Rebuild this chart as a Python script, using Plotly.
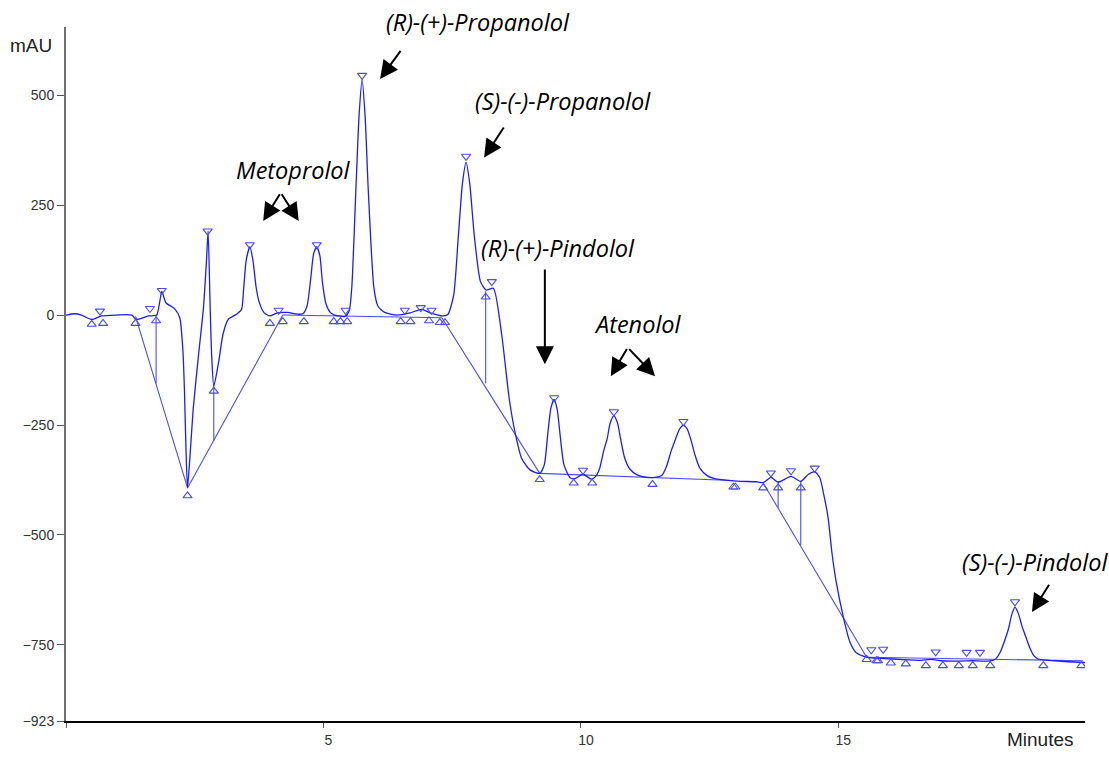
import plotly.graph_objects as go

# ---- chromatogram signal (time in minutes, absorbance in mAU) ----
sig_t = [0.00, 0.17, 0.30, 0.50, 0.69, 0.98, 1.28, 1.36, 1.60, 1.76, 1.82, 1.86, 1.94, 2.04, 2.12,
         2.21, 2.27, 2.30, 2.33, 2.36, 2.41, 2.47, 2.57, 2.67, 2.73, 2.76, 2.80, 2.83, 2.87, 2.96,
         3.05, 3.15, 3.31, 3.41, 3.45, 3.50, 3.57, 3.63, 3.69, 3.75, 3.85, 3.96, 4.10, 4.30, 4.50,
         4.60, 4.68, 4.75, 4.81, 4.87, 4.93, 4.98, 5.05, 5.14, 5.22, 5.42, 5.50, 5.55, 5.63, 5.69,
         5.75, 5.81, 5.87, 5.98, 6.06, 6.19, 6.42, 6.68, 6.91, 7.07, 7.33, 7.42, 7.53, 7.62, 7.70,
         7.77, 7.84, 7.93, 8.05, 8.16, 8.30, 8.46, 8.61, 8.72, 8.85, 9.01, 9.20, 9.29, 9.36, 9.42,
         9.48, 9.54, 9.59, 9.67, 9.79, 9.88, 10.04, 10.20, 10.28, 10.36, 10.44, 10.51, 10.57, 10.64,
         10.71, 10.77, 10.85, 10.95, 11.10, 11.28, 11.44, 11.57, 11.66, 11.75, 11.84, 11.92, 11.99,
         12.06, 12.13, 12.22, 12.31, 12.45, 12.60, 12.85, 13.10, 13.40, 13.54, 13.69, 13.83, 14.08,
         14.27, 14.42, 14.54, 14.64, 14.72, 14.80, 14.88, 14.96, 15.09, 15.22, 15.35, 15.55, 15.70,
         15.90, 16.20, 16.60, 16.80, 17.00, 17.30, 17.60, 17.85, 18.00, 18.07, 18.15, 18.23, 18.30,
         18.37, 18.43, 18.50, 18.56, 18.62, 18.72, 18.80, 18.88, 19.20, 19.79]
sig_v = [0, 3, 0, -10, -2, 0, 0, -10, -2, 0, 30, 54, 28, 20, 13,
         -6, -80, -170, -304, -393, -318, -214, -95, 17, 128, 191, 17, -95, -162, -110,
         -43, -10, 2, 13, 60, 125, 155, 125, 65, 30, 5, -2, 5, 6, 2,
         3, 20, 80, 140, 155, 135, 75, 25, 5, 0, -3, 10, 62, 285, 450,
         536, 450, 285, 62, 20, 6, 0, 5, 13, 5, -2, 2, 46, 180, 300,
         347, 300, 180, 76, 57, 61, -43, -192, -266, -326, -352, -360, -340, -266, -210,
         -192, -215, -266, -340, -370, -372, -362, -373, -368, -350, -310, -281, -245, -229,
         -245, -281, -325, -350, -364, -369, -369, -365, -345, -310, -281, -258, -251,
         -258, -281, -320, -348, -365, -372, -376, -378, -379, -381, -369, -380, -367,
         -378, -362, -356, -370, -410, -460, -545, -608, -683, -742, -768, -778, -780,
         -781, -783, -785, -783, -786, -787, -786, -787, -785, -780, -765, -740, -715,
         -680, -664, -680, -705, -725, -757, -775, -782, -786, -790]

# ---- peak-apex markers (triangle down) ----
apex_t = [0.66, 1.63, 1.86, 2.75, 3.57, 4.13, 4.87, 5.43, 5.75, 6.58, 6.89, 7.10, 7.77, 8.27,
          9.48, 10.04, 10.64, 11.99, 13.69, 14.08, 14.54, 15.64, 15.87, 16.89, 17.49, 17.75, 18.43]
apex_v = [9, 15, 56, 191, 160, 11, 160, 11, 545, 11, 17, 11, 361, 76,
          -188, -353, -220, -242, -359, -354, -348, -761, -760, -766, -767, -767, -652]

# ---- peak start/end markers (triangle up) ----
base_t = [0.50, 0.72, 1.35, 1.75, 2.36, 2.87, 3.96, 4.21, 4.62, 5.20, 5.33, 5.46, 6.50, 6.69,
          7.05, 7.26, 7.36, 8.15, 9.20, 9.86, 10.22, 11.39, 12.96, 13.00, 13.54, 13.83, 14.27,
          15.55, 15.74, 15.77, 16.02, 16.31, 16.70, 17.03, 17.34, 17.61, 17.95, 18.98, 19.72]
base_v = [-21, -19, -19, -13, -411, -173, -19, -15, -15, -15, -15, -15, -15, -15,
          -13, -17, -17, 41, -374, -382, -382, -385, -391, -391, -393, -393, -393,
          -783, -786, -786, -791, -793, -797, -797, -797, -797, -797, -797, -797]

# ---- integration baselines (start/end points of each segment) ----
bl_t0 = [1.35, 2.36, 4.21, 7.30, 9.20, 13.54, 15.55]
bl_v0 = [-3, -393, 0, -6, -360, -382, -778]
bl_t1 = [2.36, 4.21, 7.30, 9.20, 12.95, 15.55, 19.75]
bl_v1 = [-393, 0, -6, -360, -376, -778, -786]

# ---- perpendicular drop lines ----
drop_t = [1.75, 2.87, 8.15, 13.83, 14.27]
drop_top = [0, -162, 54, -378, -378]
drop_bot = [-155, -286, -155, -438, -523]

# ---- labels (the first one sits above the plot, in paper units) ----
labels = ["Metoprolol", "(S)-(-)-Propanolol",
          "(R)-(+)-Pindolol", "Atenolol", "(S)-(-)-Pindolol"]
label_t = [4.41, 9.65, 9.55, 11.11, 18.82]
label_v = [329, 486, 153, -21, -561]
top_label = "(R)-(+)-Propanolol"
top_label_pos = (0.404, 1.007)

# arrows: tail -> tip
arr_t0 = [6.52, 4.17, 4.17, 8.52, 9.30, 10.91, 10.91, 19.11]
arr_v0 = [604, 278, 278, 430, 107, -74, -74, -610]
arr_t1 = [6.10, 3.83, 4.52, 8.12, 9.30, 10.58, 11.44, 18.76]
arr_v1 = [537, 214, 214, 358, -112, -139, -139, -675]

y_ticks = [500, 250, 0, -250, -500, -750, -923]
x_ticks = [0, 5, 10, 15]
x_ticktext = ["", "5", "10", "15"]

SIG_COLOR = "#1c1cff"
AUX_COLOR = "#4a4aff"
LABEL_FONT = dict(family="Open Sans", size=23.5, style="italic", color="#000000")

fig = go.Figure()

# baselines
bx, by = [], []
for a, b, c, d in zip(bl_t0, bl_v0, bl_t1, bl_v1):
    bx += [a, c, None]
    by += [b, d, None]
for t, top, bot in zip(drop_t, drop_top, drop_bot):
    bx += [t, t, None]
    by += [top, bot, None]
fig.add_trace(go.Scatter(x=bx, y=by, mode="lines",
                         line=dict(color=AUX_COLOR, width=1.1), hoverinfo="skip"))

fig.add_trace(go.Scatter(x=sig_t, y=sig_v, mode="lines",
                         line=dict(color=SIG_COLOR, width=1.3, shape="spline", smoothing=0.6)))

fig.add_trace(go.Scatter(x=apex_t, y=apex_v, mode="markers",
                         marker=dict(symbol="triangle-down-open", size=8,
                                     color=AUX_COLOR, line=dict(width=1.1, color=AUX_COLOR))))
fig.add_trace(go.Scatter(x=base_t, y=base_v, mode="markers",
                         marker=dict(symbol="triangle-up-open", size=8,
                                     color=AUX_COLOR, line=dict(width=1.1, color=AUX_COLOR))))

annotations = []
for txt, t, v in zip(labels, label_t, label_v):
    annotations.append(dict(x=t, y=v, xref="x", yref="y", text=txt, showarrow=False,
                            xanchor="center", yanchor="middle", font=LABEL_FONT))
annotations.append(dict(x=top_label_pos[0], y=top_label_pos[1], xref="paper", yref="paper",
                        text=top_label, showarrow=False, xanchor="center", yanchor="middle",
                        font=LABEL_FONT))
for a, b, c, d in zip(arr_t0, arr_v0, arr_t1, arr_v1):
    annotations.append(dict(x=c, y=d, ax=a, ay=b, xref="x", yref="y", axref="x", ayref="y",
                            text="", showarrow=True, arrowhead=2, arrowsize=1.8,
                            arrowwidth=2, arrowcolor="#000000", standoff=0))
annotations.append(dict(x=-0.034, y=0.973, xref="paper", yref="paper", text="mAU",
                        xanchor="center", yanchor="middle", showarrow=False,
                        font=dict(family="Liberation Sans", size=19, color="#222222")))
annotations.append(dict(x=0.956, y=-0.026, xref="paper", yref="paper", text="Minutes",
                        xanchor="center", yanchor="middle", showarrow=False,
                        font=dict(family="Liberation Sans", size=19, color="#222222")))

fig.update_layout(
    width=1109, height=760,
    margin=dict(l=66, r=24, t=27, b=26),
    paper_bgcolor="white", plot_bgcolor="white",
    showlegend=False,
    annotations=annotations,
    xaxis=dict(range=[0, 19.79], showgrid=False, zeroline=False,
               tickvals=x_ticks, ticktext=x_ticktext, ticks="outside", ticklen=5,
               tickcolor="#555555", showline=True, linecolor="#000000", linewidth=1.5,
               ticklabelshift=5,
               tickfont=dict(family="Liberation Sans", size=14, color="#333333")),
    yaxis=dict(range=[-923, 655], showgrid=False, zeroline=False,
               tickvals=y_ticks, ticks="outside", ticklen=7,
               tickcolor="#555555", showline=True, linecolor="#707070", linewidth=2,
               tickfont=dict(family="Liberation Sans", size=14, color="#333333")),
)

fig.write_html("out.html")
